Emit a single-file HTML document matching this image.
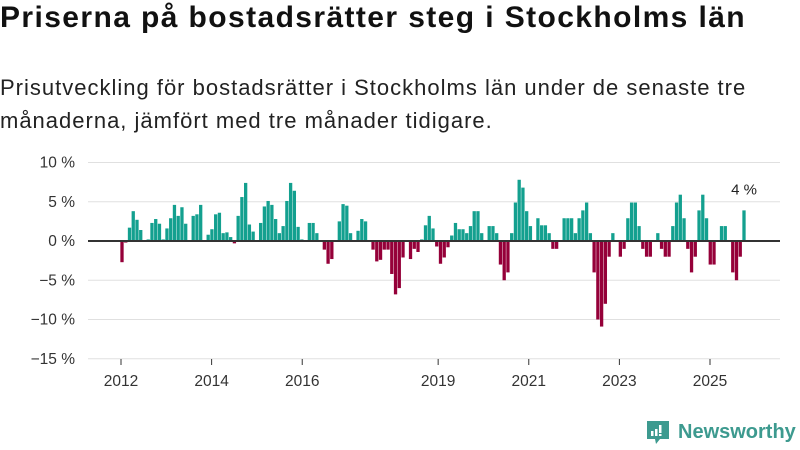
<!DOCTYPE html>
<html><head><meta charset="utf-8">
<style>
body{margin:0;width:800px;height:450px;background:#fff;overflow:hidden;font-family:"Liberation Sans",sans-serif;color:#111;position:relative}
#title{position:absolute;left:0;top:1px;font-size:30px;font-weight:bold;white-space:nowrap;letter-spacing:1.4px}
#sub{position:absolute;left:0;top:71px;font-size:22px;line-height:33px;color:#222;width:800px;white-space:nowrap;letter-spacing:1px}
svg{position:absolute;left:0;top:0}
#logo-text{position:absolute;left:678px;top:421px;font-size:20px;color:#3d9a8f;font-weight:bold;white-space:nowrap}
</style></head><body>
<div id="title">Priserna på bostadsrätter steg i Stockholms län</div>
<div id="sub">Prisutveckling för bostadsrätter i Stockholms län under de senaste tre<br>månaderna, jämfört med tre månader tidigare.</div>
<svg id="chart" width="800" height="450"></svg>
<svg id="logo" width="26" height="28" viewBox="0 0 26 28" style="left:645px;top:419px">
<path d="M2 2h22v18h-9l-4 5-1-5H2z" fill="#3d9a8f"/>
<rect x="6" y="12" width="2.5" height="5" fill="#fff"/><rect x="10" y="10" width="2.5" height="7" fill="#fff"/><rect x="14" y="6" width="2.5" height="8" fill="#fff"/><rect x="14" y="15" width="2.5" height="2" fill="#fff"/>
</svg>
<div id="logo-text">Newsworthy</div>
<script>
const values=[-2.7,-0.2,1.7,3.8,2.7,1.4,0,0.2,2.3,2.8,2.2,0.2,1.6,2.9,4.6,3.2,4.3,2.2,0.1,3.2,3.4,4.6,0.1,0.8,1.5,3.4,3.6,1.0,1.1,0.5,-0.3,3.2,5.6,7.4,2.1,1.2,0,2.3,4.4,
5.1,4.6,2.8,1.0,1.9,5.1,7.4,6.4,1.8,0.2,0,2.3,2.3,1.0,0,-1.1,-2.9,-2.3,0,2.5,4.7,4.5,1.0,0,1.3,2.8,2.5,0.1,-1.1,-2.6,-2.4,-1.1,-1.1,-4.2,-6.8,-6.0,-2.1,0,-2.3,-1.0,-1.4,0.2,2.0,3.2,1.6,
-0.7,-2.9,-2.1,-0.8,0.7,2.3,1.5,1.5,1.0,1.9,3.8,3.8,1.0,0,1.9,1.9,1.0,-3.0,-5.0,-4.0,1.0,4.9,7.8,6.8,3.8,1.9,0,2.9,2.0,2.0,1.0,-1.0,-1.0,0,2.9,2.9,2.9,1.0,2.9,3.9,4.9,1.0,-4.0,-10.0,-10.9,-8.0,-2.0,
1.0,0,-2.0,-1.0,2.9,4.9,4.9,1.9,-1.0,-2.0,-2.0,0,1.0,-1.0,-2.0,-2.0,1.9,4.9,5.9,2.9,-1.0,-4.0,-2.0,3.9,5.9,2.9,-3.0,-3.0,0,1.9,1.9,0,-4.0,-5.0,-2.0,3.9];
const yTicks=[10,5,0,-5,-10,-15];
const yTickLabels=["10 %","5 %","0 %","−5 %","−10 %","−15 %"];
const xTicks=[2012,2014,2016,2019,2021,2023,2025];
const lastLabel="4 %";
const svg=document.getElementById('chart');
const NS='http://www.w3.org/2000/svg';
function y(v){return 241-v*7.85;}
function xYear(yr){return 121+(yr-2012)*(710-121)/13;}
const x0=122,x1=744;
function xBar(i){return x0+i*(x1-x0)/(values.length-1);}
function mk(tag,attrs){const e=document.createElementNS(NS,tag);for(const k in attrs)e.setAttribute(k,attrs[k]);svg.appendChild(e);return e;}
yTicks.forEach((t,i)=>{
  if(t!==0){const g=mk('line',{x1:88,x2:780,y1:y(t),y2:y(t),stroke:'#e0e0e0','stroke-width':1});
  
  }
  const l=mk('text',{x:75,y:y(t)+5,'text-anchor':'end','font-size':15.5,fill:'#333','font-family':'Liberation Sans, sans-serif'});
  l.textContent=yTickLabels[i];
  
  
});
xTicks.forEach(t=>{
  const tk=mk('line',{x1:xYear(t),x2:xYear(t),y1:359,y2:365,stroke:'#333','stroke-width':1});
  
  
  const l=mk('text',{x:xYear(t),y:386,'text-anchor':'middle','font-size':15.5,fill:'#333','font-family':'Liberation Sans, sans-serif'});
  l.textContent=t;
  
  
});
const bw=(x1-x0)/(values.length-1)*0.88;
values.forEach((v,i)=>{
  if(v===0)return;
  const top=Math.min(y(v),y(0)),h=Math.abs(y(v)-y(0));
  const r=mk('rect',{x:xBar(i)-bw/2,y:top,width:bw,height:h,fill:v>0?'#13a08f':'#950039'});
  
  
});
const z=mk('line',{x1:88,x2:780,y1:y(0),y2:y(0),stroke:'#333','stroke-width':2});


const li=values.length-1;
const lab=mk('text',{x:xBar(li),y:y(values[li])-16,'text-anchor':'middle','font-size':15,fill:'#222','font-family':'Liberation Sans, sans-serif'});
lab.textContent=lastLabel;


</script>
</body></html>
